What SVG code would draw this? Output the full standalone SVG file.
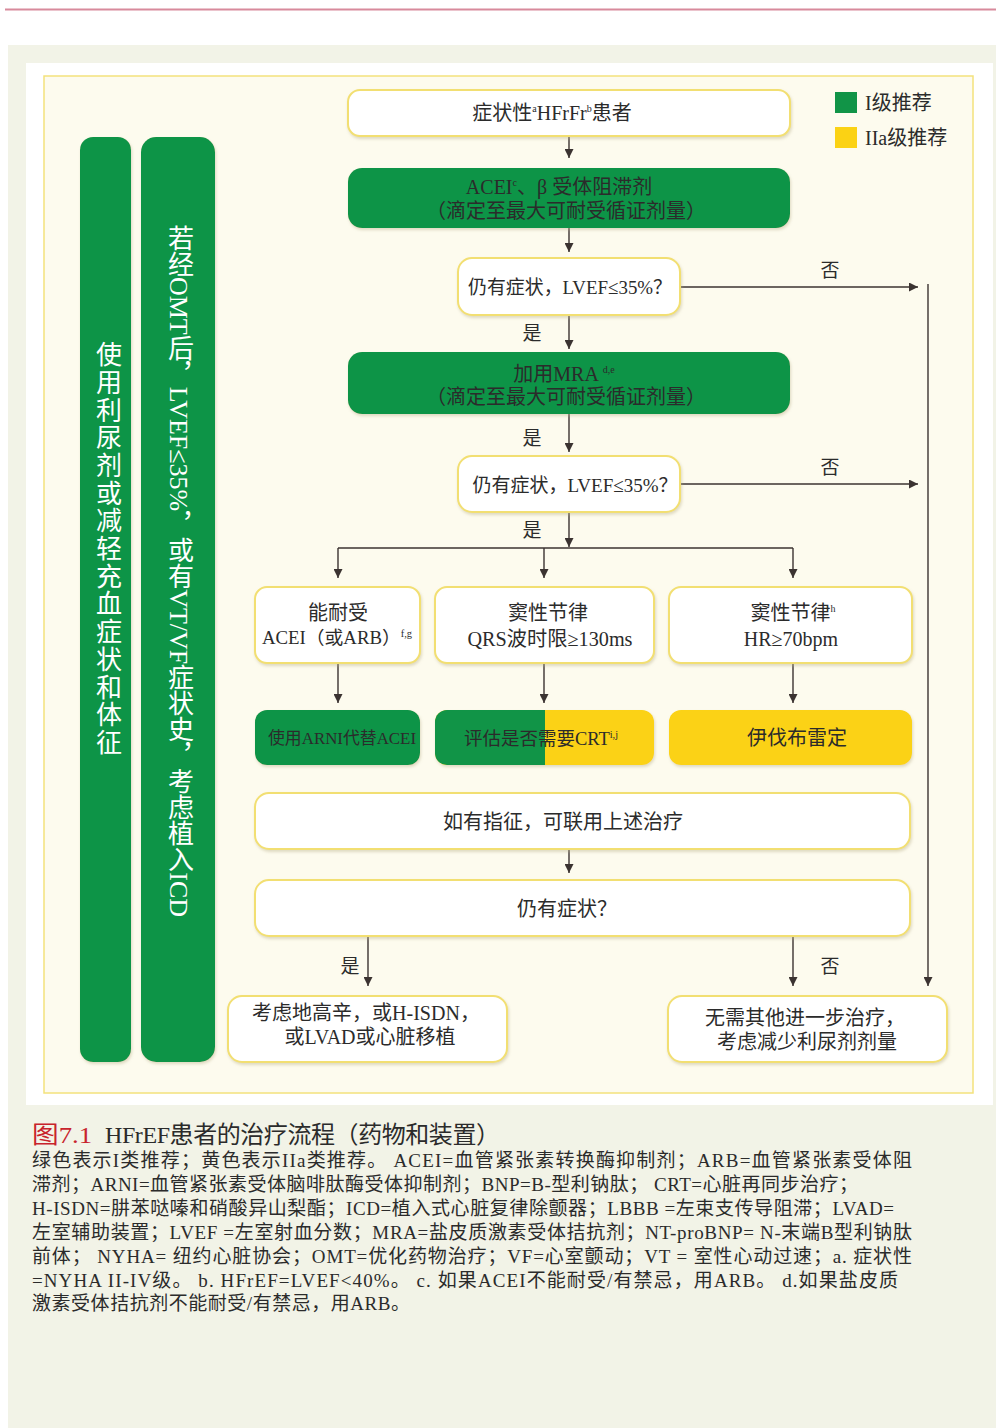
<svg xmlns="http://www.w3.org/2000/svg" width="996" height="1428" viewBox="0 0 996 1428">
<style>
.t{font-family:"Liberation Serif","Noto Sans CJK SC",serif;fill:#2b2b2b;}
.n{font-size:20px;text-anchor:middle;}
.g{fill:#119447;}
.y{fill:#fbd214;}
.w{fill:#ffffff;stroke:#f2df72;stroke-width:2;}
.c{stroke:#3b3331;stroke-width:1.4;fill:none;}
.lab{font-size:19px;text-anchor:middle;}
.cap{font-size:19px;}
.vt{font-family:"Liberation Serif","Noto Sans CJK SC",serif;fill:#ffffff;font-size:26px;writing-mode:vertical-rl;text-anchor:middle;}
</style>
<defs>
<marker id="ah" viewBox="0 0 10 10" refX="10" refY="5" markerWidth="9" markerHeight="9" markerUnits="userSpaceOnUse" orient="auto">
<path d="M0,0 L10,5 L0,10 z" fill="#3b3331"/>
</marker>
<filter id="sh" x="-10%" y="-10%" width="120%" height="130%">
<feDropShadow dx="1" dy="2" stdDeviation="1.5" flood-color="#b9b08a" flood-opacity="0.45"/>
</filter>
</defs>
<rect width="996" height="1428" fill="#ffffff"/>
<line x1="5" y1="9.5" x2="996" y2="9.5" stroke="#d88a9c" stroke-width="2"/>
<rect x="8" y="45" width="988" height="1383" fill="#f2f3e7"/>
<rect x="26" y="63" width="967" height="1042" fill="#ffffff"/>
<rect x="44" y="76" width="929" height="1017" fill="#fdfbee" stroke="#f3e27c" stroke-width="1.5"/>

<!-- legend -->
<g id="legend">
<rect x="835" y="92" width="22" height="21" class="g"/>
<text x="865" y="110" class="t" style="font-size:20px">I级推荐</text>
<rect x="835" y="127" width="22" height="21" class="y"/>
<text x="865" y="145" class="t" style="font-size:20px">IIa级推荐</text>
</g>

<!-- vertical bars -->
<g id="bar1">
<rect x="80" y="137" width="51" height="925" rx="13" class="g" filter="url(#sh)"/>
<text x="106" y="549" class="vt" letter-spacing="1.7">使用利尿剂或减轻充血症状和体征</text>
</g>
<g id="bar2">
<rect x="141" y="137" width="74" height="925" rx="15" class="g" filter="url(#sh)"/>
<text x="178" y="571" class="vt">若经OMT后，LVEF≤35%，或有VT/VF症状史，考虑植入ICD</text>
</g>

<!-- connectors -->
<g id="connectors">
<line x1="569" y1="136" x2="569" y2="158" class="c" marker-end="url(#ah)"/>
<line x1="569" y1="228" x2="569" y2="252" class="c" marker-end="url(#ah)"/>
<line x1="680" y1="287" x2="918" y2="287" class="c" marker-end="url(#ah)"/>
<line x1="569" y1="315" x2="569" y2="349" class="c" marker-end="url(#ah)"/>
<line x1="569" y1="414" x2="569" y2="452" class="c" marker-end="url(#ah)"/>
<line x1="680" y1="484" x2="918" y2="484" class="c" marker-end="url(#ah)"/>
<line x1="569" y1="512" x2="569" y2="547" class="c" marker-end="url(#ah)"/>
<line x1="338" y1="548" x2="793" y2="548" class="c"/>
<line x1="338" y1="548" x2="338" y2="578" class="c" marker-end="url(#ah)"/>
<line x1="544" y1="548" x2="544" y2="578" class="c" marker-end="url(#ah)"/>
<line x1="793" y1="548" x2="793" y2="578" class="c" marker-end="url(#ah)"/>
<line x1="338" y1="663" x2="338" y2="703" class="c" marker-end="url(#ah)"/>
<line x1="544" y1="663" x2="544" y2="703" class="c" marker-end="url(#ah)"/>
<line x1="793" y1="663" x2="793" y2="703" class="c" marker-end="url(#ah)"/>
<line x1="569" y1="849" x2="569" y2="873" class="c" marker-end="url(#ah)"/>
<line x1="368" y1="936" x2="368" y2="986" class="c" marker-end="url(#ah)"/>
<line x1="793" y1="936" x2="793" y2="986" class="c" marker-end="url(#ah)"/>
<line x1="928" y1="284" x2="928" y2="986" class="c" marker-end="url(#ah)"/>
<text x="830" y="277" class="t lab">否</text>
<text x="830" y="474" class="t lab">否</text>
<text x="532" y="340" class="t lab">是</text>
<text x="532" y="445" class="t lab">是</text>
<text x="532" y="537" class="t lab">是</text>
<text x="350" y="973" class="t lab">是</text>
<text x="830" y="973" class="t lab">否</text>
</g>

<!-- nodes -->
<g id="start">
<rect x="348" y="90" width="442" height="46" rx="12" class="w" filter="url(#sh)"/>
<text x="552" y="120" class="t n">症状性<tspan font-size="10" dy="-8">a</tspan><tspan dy="8">HFrFr</tspan><tspan font-size="10" dy="-8">b</tspan><tspan dy="8">患者</tspan></text>
</g>
<g id="acei">
<rect x="348" y="168" width="442" height="60" rx="14" class="g" filter="url(#sh)"/>
<text x="559" y="194" class="t n">ACEI<tspan font-size="10" dy="-8">c</tspan><tspan dy="8">、β 受体阻滞剂</tspan></text>
<text x="566" y="218" class="t n">（滴定至最大可耐受循证剂量）</text>
</g>
<g id="q1">
<rect x="458" y="258" width="222" height="57" rx="14" class="w" filter="url(#sh)"/>
<text x="570" y="294" class="t n" style="font-size:19.5px" textLength="204" lengthAdjust="spacingAndGlyphs">仍有症状，LVEF≤35%？</text>
</g>
<g id="mra">
<rect x="348" y="352" width="442" height="62" rx="14" class="g" filter="url(#sh)"/>
<text x="564" y="381" class="t n">加用MRA <tspan font-size="10" dy="-8">d,e</tspan></text>
<text x="566" y="404" class="t n">（滴定至最大可耐受循证剂量）</text>
</g>
<g id="q2">
<rect x="458" y="456" width="222" height="56" rx="14" class="w" filter="url(#sh)"/>
<text x="575" y="492" class="t n" style="font-size:19.5px" textLength="205" lengthAdjust="spacingAndGlyphs">仍有症状，LVEF≤35%？</text>
</g>
<g id="tol">
<rect x="255" y="587" width="165" height="76" rx="12" class="w" filter="url(#sh)"/>
<text x="338" y="620" class="t n">能耐受</text>
<text x="337" y="644" class="t n" style="font-size:18px" textLength="150" lengthAdjust="spacingAndGlyphs">ACEI（或ARB）<tspan style="font-size:10px" dy="-7">f,g</tspan></text>
</g>
<g id="sinus1">
<rect x="435" y="587" width="219" height="76" rx="12" class="w" filter="url(#sh)"/>
<text x="548" y="620" class="t n">窦性节律</text>
<text x="550" y="646" class="t n" textLength="165" lengthAdjust="spacingAndGlyphs">QRS波时限≥130ms</text>
</g>
<g id="sinus2">
<rect x="669" y="587" width="243" height="76" rx="12" class="w" filter="url(#sh)"/>
<text x="793" y="620" class="t n">窦性节律<tspan font-size="10" dy="-8">h</tspan></text>
<text x="791" y="646" class="t n">HR≥70bpm</text>
</g>
<g id="arni">
<rect x="255" y="710" width="165" height="55" rx="12" class="g" filter="url(#sh)"/>
<text x="342" y="744" class="t n" style="font-size:17px" textLength="148" lengthAdjust="spacingAndGlyphs">使用ARNI代替ACEI</text>
</g>
<g id="crt">
<rect x="435" y="710" width="219" height="55" rx="12" class="y" filter="url(#sh)"/>
<path d="M447,710 H545 V765 H447 A12,12 0 0 1 435,753 V722 A12,12 0 0 1 447,710 Z" class="g"/>
<text x="541" y="745" class="t n" style="font-size:18px" textLength="154" lengthAdjust="spacingAndGlyphs">评估是否需要CRT<tspan style="font-size:10px" dy="-7">i,j</tspan></text>
</g>
<g id="ivab">
<rect x="669" y="710" width="243" height="55" rx="12" class="y" filter="url(#sh)"/>
<text x="797" y="745" class="t n">伊伐布雷定</text>
</g>
<g id="combine">
<rect x="255" y="793" width="655" height="56" rx="14" class="w" filter="url(#sh)"/>
<text x="563" y="829" class="t n">如有指征，可联用上述治疗</text>
</g>
<g id="q3">
<rect x="255" y="880" width="655" height="56" rx="14" class="w" filter="url(#sh)"/>
<text x="567" y="916" class="t n">仍有症状？</text>
</g>
<g id="dig">
<rect x="228" y="996" width="279" height="66" rx="14" class="w" filter="url(#sh)"/>
<text x="366" y="1020" class="t n">考虑地高辛，或H-ISDN，</text>
<text x="370" y="1044" class="t n">或LVAD或心脏移植</text>
</g>
<g id="none">
<rect x="668" y="996" width="279" height="66" rx="14" class="w" filter="url(#sh)"/>
<text x="805" y="1025" class="t n">无需其他进一步治疗，</text>
<text x="807" y="1049" class="t n">考虑减少利尿剂剂量</text>
</g>

<!-- caption -->
<g id="caption">
<text x="32" y="1143" class="t" style="font-size:24px;fill:#c8232c" textLength="60" lengthAdjust="spacingAndGlyphs">图7.1</text>
<text x="105" y="1143" class="t" style="font-size:24px" textLength="395" lengthAdjust="spacing">HFrEF患者的治疗流程（药物和装置）</text>
<text x="32" y="1167" class="t cap" textLength="880" lengthAdjust="spacing">绿色表示I类推荐；黄色表示IIa类推荐。 ACEI=血管紧张素转换酶抑制剂；ARB=血管紧张素受体阻</text>
<text x="32" y="1191" class="t cap" textLength="826" lengthAdjust="spacing">滞剂；ARNI=血管紧张素受体脑啡肽酶受体抑制剂；BNP=B-型利钠肽；  CRT=心脏再同步治疗；</text>
<text x="32" y="1215" class="t cap" textLength="862" lengthAdjust="spacing">H-ISDN=肼苯哒嗪和硝酸异山梨酯；ICD=植入式心脏复律除颤器；LBBB =左束支传导阻滞；LVAD=</text>
<text x="32" y="1239" class="t cap" textLength="880" lengthAdjust="spacing">左室辅助装置；LVEF =左室射血分数；MRA=盐皮质激素受体拮抗剂；NT-proBNP= N-末端B型利钠肽</text>
<text x="32" y="1263" class="t cap" textLength="880" lengthAdjust="spacing">前体； NYHA= 纽约心脏协会；OMT=优化药物治疗；VF=心室颤动；VT = 室性心动过速；a. 症状性</text>
<text x="32" y="1287" class="t cap" textLength="866" lengthAdjust="spacing">=NYHA II-IV级。 b. HFrEF=LVEF&lt;40%。 c. 如果ACEI不能耐受/有禁忌，用ARB。 d.如果盐皮质</text>
<text x="32" y="1310" class="t cap" textLength="378" lengthAdjust="spacing">激素受体拮抗剂不能耐受/有禁忌，用ARB。</text>
</g>
</svg>
